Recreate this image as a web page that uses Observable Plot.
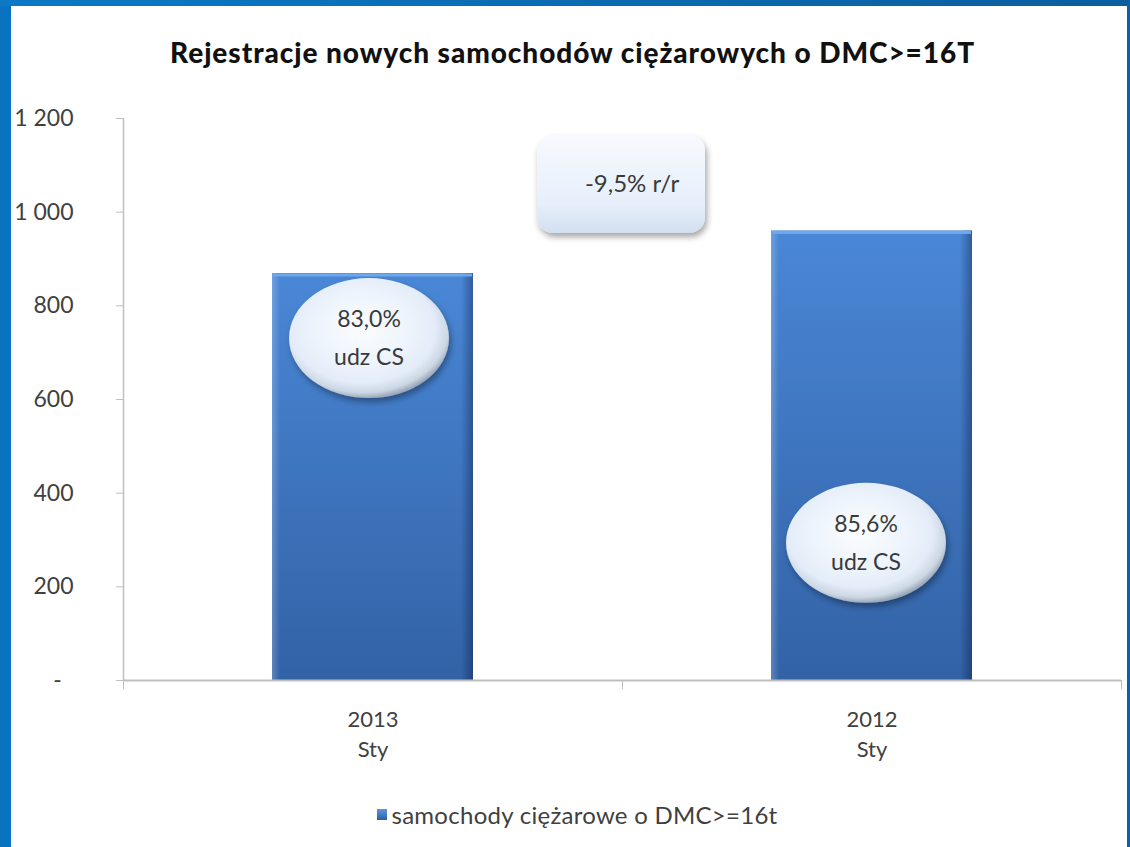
<!DOCTYPE html>
<html>
<head>
<meta charset="utf-8">
<script src="https://cdn.jsdelivr.net/npm/d3@7"></script>
<script src="https://cdn.jsdelivr.net/npm/@observablehq/plot@0.6"></script>
<style>
html,body{margin:0;padding:0;background:#fff;}
#page{position:relative;width:1130px;height:847px;overflow:hidden;background:#fff;font-family:Lato,"Open Sans",sans-serif;}
#bl{position:absolute;left:0;top:0;width:11px;height:847px;background:#0a73bf;}
#bt{position:absolute;left:0;top:0;width:1130px;height:6px;background:linear-gradient(to right,#0b79c6,#0a5e9e);}
#br{position:absolute;right:0;top:0;width:3px;height:847px;background:#0a62a5;}
#title{position:absolute;left:0;top:35px;width:1130px;text-align:center;}
#title span{display:inline-block;font-weight:900;font-size:28px;color:#111;white-space:nowrap;margin-left:15px;}
#chart{position:absolute;left:0;top:90px;}
#legend{position:absolute;top:800px;left:0;width:1130px;text-align:center;}
#legend .item{display:inline-flex;align-items:center;margin-left:24px;}
#legend .sw{display:inline-block;width:10px;height:11px;background:linear-gradient(#5a97e0,#2f5fa3);margin-right:5px;}
#legend .lt{font-size:24px;color:#404040;white-space:nowrap;display:inline-block;}
</style>
</head>
<body>
<div id="page">
  <div id="title"><span></span></div>
  <div id="chart"></div>
  <div id="legend"><span class="item"><span class="sw"></span><span class="lt"></span></span></div>
  <div id="bl"></div><div id="bt"></div><div id="br"></div>
</div>
<script>
// ---- data ----
const title = "Rejestracje nowych samochodów ciężarowych o DMC>=16T";
const seriesName = "samochody ciężarowe o DMC>=16t";
const categories = ["2013\nSty", "2012\nSty"];
const values = [869, 960];
const yTicks = [0, 200, 400, 600, 800, 1000, 1200];
const shareLabels = ["83,0%\nudz CS", "85,6%\nudz CS"];
const shareX = [0.493, 1.489];   // callout centre, in category units
const shareY = [730, 293];       // callout centre, in value units
const changeLabel = "-9,5% r/r";
const changeX = 0.998;
const changeY = 1059;

const rows = categories.map((c, i) => ({i, cat: c, value: values[i]}));

document.querySelector("#title span").textContent = title;
document.querySelector("#legend .lt").textContent = seriesName;

const grid = "#bfbfbf";
const textColor = "#404040";
const fmt = d => d === 0 ? "-\u00a0\u00a0" : d3.format(",")(d).replace(/,/g, "\u00a0");

const plot = Plot.plot({
  width: 1130,
  height: 680,
  marginLeft: 123,
  marginRight: 9,
  marginTop: 28,
  marginBottom: 90,
  x: {domain: [0, 2], axis: null},
  y: {domain: [0, 1200], axis: null},
  style: {fontFamily: "Lato, 'Open Sans', sans-serif", background: "transparent", overflow: "visible"},
  marks: [
    Plot.ruleX([0], {y1: 0, y2: 1200, stroke: grid, strokeWidth: 1.5}),
    Plot.axisY({ticks: yTicks, tickSize: 7, tickFormat: () => "", stroke: grid, label: null}),
    Plot.axisY({ticks: yTicks, tickSize: 0, tickPadding: 50, tickFormat: fmt, fontSize: 23, fill: textColor, label: null}),
    Plot.rectY(rows, {x1: "i", x2: d => d.i + 1, y: "value", insetLeft: 149, insetRight: 149, fill: "url(#barV)"}),
    Plot.rectY(rows, {x1: "i", x2: d => d.i + 1, y: "value", insetLeft: 149, insetRight: 149, fill: "url(#barH)"}),
    Plot.ruleY(rows, {y: "value", x1: "i", x2: d => d.i + 1, insetLeft: 150, insetRight: 150, dy: 1.5, stroke: "#6ea8ec", strokeWidth: 3}),
    Plot.ruleY([0], {stroke: grid, strokeWidth: 2}),
    Plot.axisX({ticks: [0, 1, 2], tickSize: 9, tickFormat: () => "", stroke: grid, label: null}),
    Plot.axisX({ticks: [0.5, 1.5], tickSize: 0, tickPadding: 25, tickFormat: d => categories[Math.floor(d)], fontSize: 22, lineHeight: 1.36, fill: textColor, label: null})
  ]
});
document.getElementById("chart").appendChild(plot);

// ---- defs: gradients and shadow ----
const svg = d3.select(plot);
const defs = svg.insert("defs", ":first-child");
function lin(id, x2, y2, stops) {
  const g = defs.append("linearGradient").attr("id", id).attr("x1", 0).attr("y1", 0).attr("x2", x2).attr("y2", y2);
  stops.forEach(([o, c, a]) => g.append("stop").attr("offset", o).attr("stop-color", c).attr("stop-opacity", a ?? 1));
}
lin("barV", 0, 1, [["0%", "#4a87d6"], ["100%", "#3262a6"]]);
lin("barH", 1, 0, [["0%", "#ffffff", 0.22], ["4%", "#ffffff", 0], ["94%", "#000020", 0], ["100%", "#000020", 0.32]]);
lin("boxG", 0, 1, [["0%", "#f7fafe"], ["70%", "#e6effa"], ["100%", "#d3e0f0"]]);
const rg = defs.append("radialGradient").attr("id", "ellG").attr("cx", "46%").attr("cy", "42%").attr("r", "58%");
[["0%", "#fbfdff"], ["50%", "#eef4fc"], ["78%", "#e3ecf8"], ["92%", "#cdd7e4"], ["100%", "#9aa8b8"]]
  .forEach(([o, c]) => rg.append("stop").attr("offset", o).attr("stop-color", c));
const f = defs.append("filter").attr("id", "shadow").attr("x", "-30%").attr("y", "-30%").attr("width", "160%").attr("height", "170%");
f.append("feDropShadow").attr("dx", 2).attr("dy", 4).attr("stdDeviation", 3).attr("flood-color", "#000").attr("flood-opacity", 0.35);

// ---- callouts, positioned with the plot's scales ----
const sx = plot.scale("x"), sy = plot.scale("y");
const g = svg.append("g").attr("font-family", "Lato, 'Open Sans', sans-serif").attr("fill", "#3a3a3a");
shareLabels.forEach((lab, k) => {
  const cx = sx.apply(shareX[k]), cy = sy.apply(shareY[k]);
  g.append("ellipse").attr("cx", cx).attr("cy", cy).attr("rx", 80).attr("ry", 60)
    .attr("fill", "url(#ellG)").attr("filter", "url(#shadow)");
  const lines = lab.split("\n");
  lines.forEach((t, j) => {
    g.append("text").attr("x", cx).attr("y", cy + (j - 0.5) * 38).attr("dy", "0.35em")
      .attr("text-anchor", "middle").attr("font-size", 23).attr("fill", "#3a3a3a").text(t);
  });
});
{
  const cx = sx.apply(changeX), cy = sy.apply(changeY);
  g.append("rect").attr("x", cx - 84).attr("y", cy - 49).attr("width", 168).attr("height", 98)
    .attr("rx", 16).attr("fill", "url(#boxG)").attr("filter", "url(#shadow)");
  g.append("text").attr("x", cx + 11).attr("y", cy).attr("dy", "0.35em").attr("text-anchor", "middle")
    .attr("font-size", 24).attr("fill", "#3a3a3a").text(changeLabel);
}

// ---- fit title and legend widths to the reference ----
function fitWidth(el, target) {
  const w = el.getBoundingClientRect().width;
  const n = el.textContent.length;
  el.style.letterSpacing = ((target - w) / n) + "px";
}
fitWidth(document.querySelector("#title span"), 805);
fitWidth(document.querySelector("#legend .lt"), 386);
</script>
</body>
</html>
